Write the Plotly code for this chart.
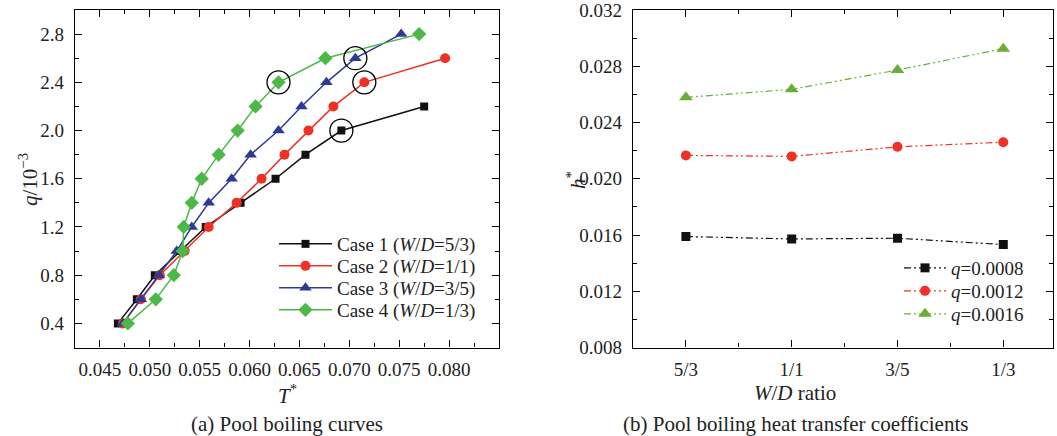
import plotly.graph_objects as go

W, H = 1057, 436

# ---------------- data: (a) pool boiling curves ----------------
q_levels = [0.4, 0.6, 0.8, 1.0, 1.2, 1.4, 1.6, 1.8, 2.0, 2.2, 2.4, 2.6, 2.8]

case1_T = [0.0468, 0.0487, 0.0505, 0.0530, 0.0556, 0.0591, 0.0626, 0.0656, 0.0692, 0.0775]
case1_q = [0.4, 0.6, 0.8, 1.0, 1.2, 1.4, 1.6, 1.8, 2.0, 2.2]

case2_T = [0.0473, 0.0491, 0.0510, 0.0535, 0.0559, 0.0587, 0.0612, 0.0635, 0.0659, 0.0684, 0.0715, 0.0796]
case2_q = [0.4, 0.6, 0.8, 1.0, 1.2, 1.4, 1.6, 1.8, 2.0, 2.2, 2.4, 2.6]

case3_T = [0.0473, 0.0491, 0.0509, 0.0527, 0.0542, 0.0559, 0.0582, 0.0601, 0.0629, 0.0652, 0.0677, 0.0706, 0.0752]
case3_q = q_levels

case4_T = [0.0478, 0.0506, 0.0524, 0.0533, 0.0534, 0.0542, 0.0552, 0.0569, 0.0588, 0.0606, 0.0629, 0.0676, 0.0770]
case4_q = q_levels

case_names = ["Case 1 (<i>W</i>/<i>D</i>=5/3)", "Case 2 (<i>W</i>/<i>D</i>=1/1)",
              "Case 3 (<i>W</i>/<i>D</i>=3/5)", "Case 4 (<i>W</i>/<i>D</i>=1/3)"]
# index of the circled point in each case
circled_index = [8, 10, 11, 10]

T_ticks = [0.045, 0.050, 0.055, 0.060, 0.065, 0.070, 0.075, 0.080]
q_ticks = [0.4, 0.8, 1.2, 1.6, 2.0, 2.4, 2.8]

# ---------------- data: (b) heat transfer coefficients ----------------
wd_categories = ["5/3", "1/1", "3/5", "1/3"]
h_q08 = [0.01589, 0.01572, 0.01577, 0.01532]
h_q12 = [0.02166, 0.02159, 0.02227, 0.02260]
h_q16 = [0.02579, 0.02636, 0.02773, 0.02925]
h_names = ["<i>q</i>=0.0008", "<i>q</i>=0.0012", "<i>q</i>=0.0016"]
h_ticks = [0.008, 0.012, 0.016, 0.020, 0.024, 0.028, 0.032]

# ---------------- styling ----------------
FONT = "Liberation Serif"
BLACK = "#111111"
RED = "#ee3124"
BLUE = "#2e3a94"
GREEN_A = "#4cb847"
GREEN_B = "#6aaf35"

def px_x(p):
    return p / W

def px_y(p):
    return 1 - p / H

fig = go.Figure()

# one legend per entry so that row spacing can follow the reference
legend_ids_a = ["legend", "legend3", "legend4", "legend5"]
legend_rows_a = [244, 266, 288, 310]
legend_ids_b = ["legend2", "legend6", "legend7"]
legend_rows_b = [268, 291, 314]

series_a = [
    (case1_T, case1_q, BLACK, "square", 8),
    (case2_T, case2_q, RED, "circle", 10),
    (case3_T, case3_q, BLUE, "triangle-up", 11),
    (case4_T, case4_q, GREEN_A, "diamond", 11),
]
for (tx, qy, col, sym, sz), name, lg in zip(series_a, case_names, legend_ids_a):
    fig.add_trace(go.Scatter(
        x=tx, y=qy, mode="lines+markers", name=name,
        line=dict(color=col, width=1.5),
        marker=dict(symbol=sym, size=sz, color=col),
        xaxis="x", yaxis="y", legend=lg,
    ))

circ_x = [s[0][i] for s, i in zip(series_a, circled_index)]
circ_y = [s[1][i] for s, i in zip(series_a, circled_index)]
fig.add_trace(go.Scatter(
    x=circ_x, y=circ_y, mode="markers", showlegend=False, hoverinfo="skip",
    marker=dict(symbol="circle-open", size=23, color="black", line=dict(width=1.3)),
    xaxis="x", yaxis="y",
))

cat_x = list(range(len(wd_categories)))
dash = "7px,3px,2px,3px,2px,3px"
series_b = [
    (h_q08, BLACK, "square", 9),
    (h_q12, RED, "circle", 10),
    (h_q16, GREEN_B, "triangle-up", 12),
]
for (hy, col, sym, sz), name, lg in zip(series_b, h_names, legend_ids_b):
    fig.add_trace(go.Scatter(
        x=cat_x, y=hy, mode="lines+markers", name=name,
        line=dict(color=col, width=1.2, dash=dash),
        marker=dict(symbol=sym, size=sz, color=col),
        xaxis="x2", yaxis="y2", legend=lg,
    ))

axis_common = dict(
    showline=True, linecolor="black", linewidth=1.2, mirror="ticks",
    ticks="inside", ticklen=7, tickwidth=1.2, tickcolor="black",
    showgrid=False, zeroline=False, automargin=False, ticklabeloverflow="allow",
    tickfont=dict(family=FONT, size=19, color="#222"),
)
minor_common = dict(ticklen=4, ticks="inside", tickcolor="black", tickwidth=1.2, showgrid=False)

layout_legends = {}
for lg, row in zip(legend_ids_a, legend_rows_a):
    layout_legends[lg] = dict(x=px_x(274), y=px_y(row), xanchor="left", yanchor="middle",
                              bgcolor="rgba(0,0,0,0)", borderwidth=0,
                              font=dict(family=FONT, size=19, color="#222"),
                              itemwidth=53)
for lg, row in zip(legend_ids_b, legend_rows_b):
    layout_legends[lg] = dict(x=px_x(899), y=px_y(row), xanchor="left", yanchor="middle",
                              bgcolor="rgba(0,0,0,0)", borderwidth=0,
                              font=dict(family=FONT, size=19, color="#222"),
                              itemwidth=42)

fig.update_layout(
    template="none",
    width=W, height=H,
    margin=dict(l=0, r=0, t=0, b=0, pad=0, autoexpand=False),
    paper_bgcolor="white", plot_bgcolor="white",
    font=dict(family=FONT, color="#222"),
    xaxis=dict(domain=[px_x(75), px_x(499)], range=[0.0425, 0.085],
               tickvals=T_ticks, tickformat=".3f", anchor="y",
               minor=dict(tickmode="linear", tick0=0.0425, dtick=0.0025, **minor_common),
               ticklabelstandoff=5, **axis_common),
    yaxis=dict(domain=[px_y(347.5), px_y(10)], range=[0.2, 3.0],
               tickvals=q_ticks, tickformat=".1f", anchor="x",
               minor=dict(tickmode="linear", tick0=0.2, dtick=0.2, **minor_common),
               ticklabelstandoff=6, **axis_common),
    xaxis2=dict(domain=[px_x(633), px_x(1053)], range=[-0.5, 3.47],
                tickvals=cat_x, ticktext=wd_categories, anchor="y2",
                minor=dict(tickvals=[0.5, 1.5, 2.5], **minor_common),
                ticklabelstandoff=5, **axis_common),
    yaxis2=dict(domain=[px_y(347.5), px_y(10)], range=[0.008, 0.032],
                tickvals=h_ticks, tickformat=".3f", anchor="x2",
                minor=dict(tickmode="linear", tick0=0.008, dtick=0.002, **minor_common),
                ticklabelstandoff=6, **axis_common),
    showlegend=True,
    **layout_legends,
)

ann_font = dict(family=FONT, size=21, color="#222")
annotations = [
    dict(text="<i>T</i><sup>*</sup>", x=px_x(287), y=px_y(394)),
    dict(text="(a) Pool boiling curves", x=px_x(287), y=px_y(424)),
    dict(text="<i>W</i>/<i>D</i> ratio", x=px_x(795), y=px_y(393)),
    dict(text="(b) Pool boiling heat transfer coefficients", x=px_x(795), y=px_y(424)),
    dict(text="<i>q</i>/10<sup>−3</sup>", x=px_x(28), y=px_y(180), textangle=-90),
    dict(text="<i>h</i><sup>*</sup>", x=px_x(576), y=px_y(180), textangle=-90),
]
for a in annotations:
    a.update(xref="paper", yref="paper", showarrow=False, font=ann_font,
             xanchor="center", yanchor="middle")
fig.update_layout(annotations=annotations)

fig.write_html("out.html")
